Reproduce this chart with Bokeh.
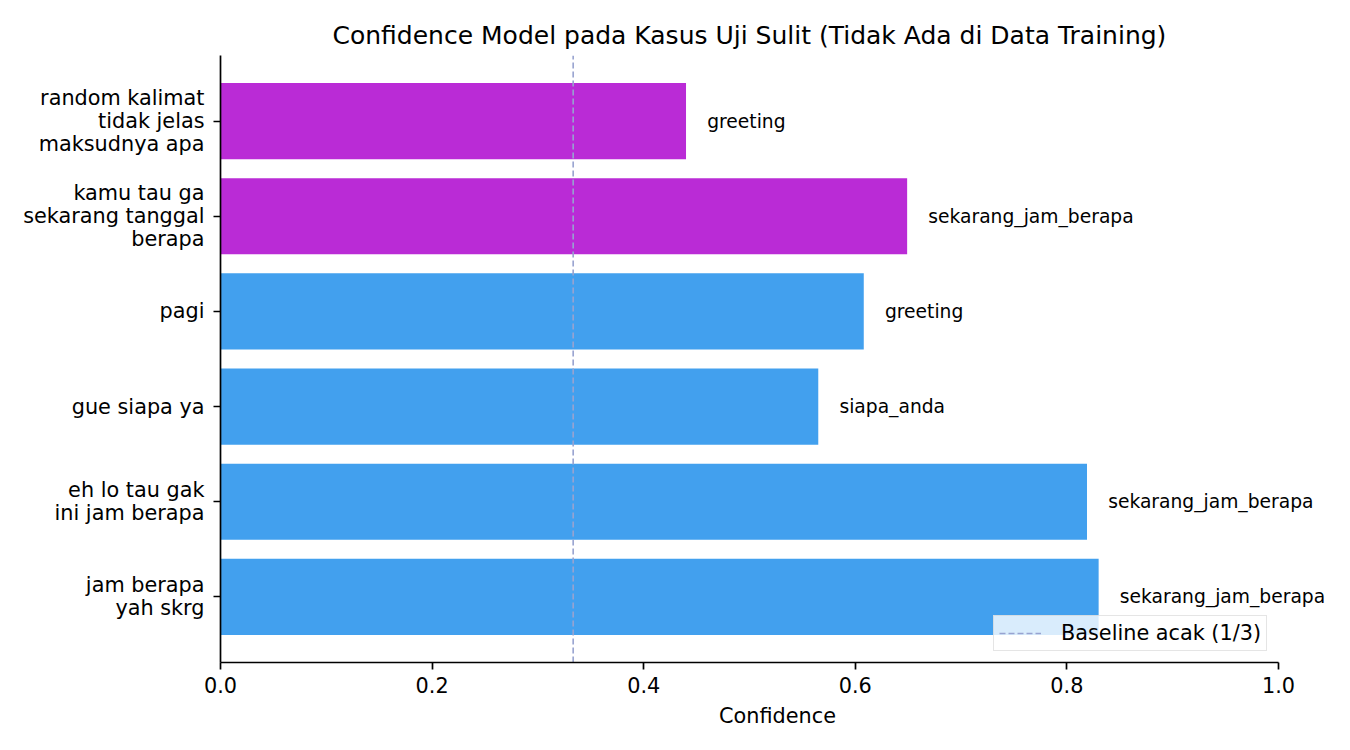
from bokeh.plotting import figure, ColumnDataSource
from bokeh.models import Range1d, FixedTicker, NumeralTickFormatter, Legend, LegendItem
from bokeh.core.properties import value
from bokeh.embed import file_html
from bokeh.resources import INLINE

# data (bottom to top)
kalimat = ["jam berapa\nyah skrg", "eh lo tau gak\nini jam berapa", "gue siapa ya", "pagi",
           "kamu tau ga\nsekarang tanggal\nberapa", "random kalimat\ntidak jelas\nmaksudnya apa"]
confidence = [0.830, 0.819, 0.565, 0.608, 0.649, 0.440]
prediksi = ["sekarang_jam_berapa", "sekarang_jam_berapa", "siapa_anda", "greeting",
            "sekarang_jam_berapa", "greeting"]
warna = ["#42a0ee", "#42a0ee", "#42a0ee", "#42a0ee", "#ba2bd6", "#ba2bd6"]
baseline = 1 / 3

FONT = "DejaVu Sans"
posisi = list(range(len(kalimat)))

src = ColumnDataSource(data=dict(
    y=posisi, conf=confidence, pred=prediksi, warna=warna,
    lx=[c + 0.02 for c in confidence],
))

# x range goes a bit past 1.0 so the labels on the longest bars are not clipped
p = figure(width=1334, height=734, output_backend="svg", toolbar_location=None,
           x_range=Range1d(0, 1114 / 1058), y_range=Range1d(-0.69, 5.69),
           title="Confidence Model pada Kasus Uji Sulit (Tidak Ada di Data Training)",
           min_border_left=220, min_border_right=0, min_border_top=55, min_border_bottom=72)

p.hbar(y="y", right="conf", left=0, height=0.8, fill_color="warna", line_color=None, source=src)

p.text(x="lx", y="y", text="pred", source=src, text_font=value(FONT), text_font_size="18.7px",
       text_baseline="middle", text_align="left", text_color="black")

garis = p.line(x=[baseline, baseline], y=[-0.69, 5.69], line_color="#98a3d0", line_width=1.6,
               line_dash="6 3")

legend = Legend(items=[LegendItem(label="Baseline acak (1/3)", renderers=[garis])],
                location=(773, 11))
legend.label_text_font = FONT
legend.label_text_font_size = "20.8px"
legend.label_text_color = "black"
legend.background_fill_alpha = 0.8
legend.border_line_color = "#cccccc"
legend.border_line_width = 1.5
legend.glyph_width = 42
legend.padding = 5
legend.margin = 0
legend.label_height = 24
legend.label_standoff = 20
p.add_layout(legend)

# centred over the 0..1 part of the axis, not the whole frame
p.title.text_font = FONT
p.title.text_font_size = "25px"
p.title.text_font_style = "normal"
p.title.text_color = "black"
p.title.align = "left"
p.title.offset = 112
p.title.standoff = 12

p.xaxis.ticker = FixedTicker(ticks=[0, 0.2, 0.4, 0.6, 0.8, 1.0])
p.xaxis.formatter = NumeralTickFormatter(format="0.0")
p.xaxis.bounds = (0, 1)
p.xaxis.axis_label = "Confidence"
p.xaxis.axis_label_text_font = FONT
p.xaxis.axis_label_text_font_size = "20.8px"
p.xaxis.axis_label_text_font_style = "normal"
p.xaxis.axis_label_text_color = "black"
p.xaxis.axis_label_standoff = 8

p.yaxis.ticker = FixedTicker(ticks=posisi)
p.yaxis.major_label_overrides = {i: k for i, k in enumerate(kalimat)}
p.yaxis.major_label_text_line_height = 0.95

for ax in (p.xaxis, p.yaxis):
    ax.major_label_text_font = FONT
    ax.major_label_text_font_size = "20.8px"
    ax.major_label_text_color = "black"
    ax.axis_line_color = "black"
    ax.axis_line_width = 1.7
    ax.major_tick_line_color = "black"
    ax.major_tick_line_width = 1.7
    ax.major_tick_out = 7
    ax.major_tick_in = 0
    ax.minor_tick_line_color = None
    ax.major_label_standoff = 7
p.yaxis.major_label_standoff = 9

p.grid.grid_line_color = None
p.outline_line_color = None

open("out.html", "w").write(file_html(p, INLINE))
